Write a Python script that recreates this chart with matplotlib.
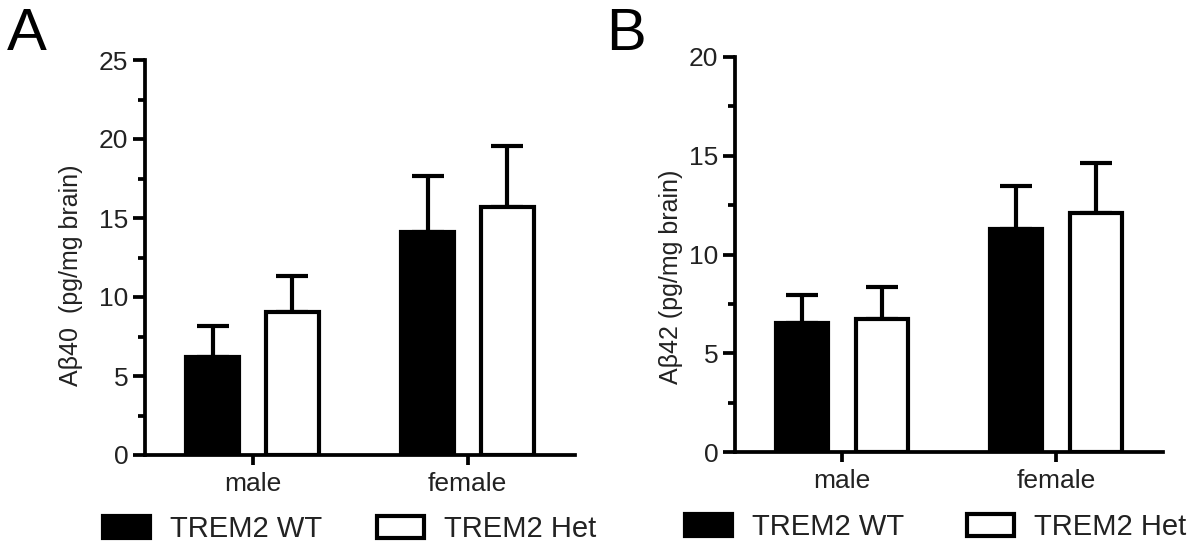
import matplotlib.pyplot as plt
import matplotlib.patches as mpatches
import numpy as np

plt.rcParams['font.family'] = ['Liberation Sans', 'DejaVu Sans']

groups = ["male", "female"]
series = ["TREM2 WT", "TREM2 Het"]

# panel A: Abeta40 (mean, upper SEM)
a40_wt = [6.2, 14.1]
a40_wt_err = [1.95, 3.55]
a40_het = [9.05, 15.7]
a40_het_err = [2.3, 3.85]

# panel B: Abeta42
a42_wt = [6.55, 11.3]
a42_wt_err = [1.4, 2.15]
a42_het = [6.75, 12.1]
a42_het_err = [1.6, 2.55]

LW = 3.0
TXT = "#222222"


def draw_panel(ax, wt, wt_err, het, het_err, ymax, ylabel, label_xy):
    x = np.arange(len(groups))
    w = 0.245
    off = 0.186
    ax.bar(x - off, wt, w, color="black", edgecolor="black", linewidth=LW, zorder=2)
    ax.bar(x + off, het, w, color="white", edgecolor="black", linewidth=LW, zorder=2)
    ax.errorbar(x - off, wt, yerr=[np.zeros(len(wt)), wt_err], fmt="none",
                ecolor="black", elinewidth=LW, capsize=11.5, capthick=LW, zorder=1)
    ax.errorbar(x + off, het, yerr=[np.zeros(len(het)), het_err], fmt="none",
                ecolor="black", elinewidth=LW, capsize=11.5, capthick=LW, zorder=1)
    ax.set_xlim(-0.5, 1.5)
    ax.set_ylim(0, ymax)
    ax.set_yticks(np.arange(0, ymax + 1, 5))
    ax.set_yticks(np.arange(0, ymax + 0.1, 2.5), minor=True)
    ax.set_xticks(x)
    ax.set_xticklabels(groups)
    for s in ["top", "right"]:
        ax.spines[s].set_visible(False)
    for s in ["left", "bottom"]:
        ax.spines[s].set_linewidth(2.7)
    ax.tick_params(axis="both", which="major", width=2.7, labelsize=19, color="black",
                   labelcolor=TXT)
    ax.tick_params(axis="y", which="major", length=9, pad=3)
    ax.tick_params(axis="y", which="minor", width=2.7, length=5)
    ax.tick_params(axis="x", length=7, pad=5)
    ax.set_ylabel(ylabel, fontsize=18, color=TXT)
    ax.yaxis.set_label_coords(*label_xy)


fig = plt.figure(figsize=(12, 5.51), dpi=100)
axA = fig.add_axes([145 / 1200, 1 - 455 / 551, 430 / 1200, 395 / 551])
axB = fig.add_axes([735 / 1200, 1 - 452 / 551, 428 / 1200, 395 / 551])

draw_panel(axA, a40_wt, a40_wt_err, a40_het, a40_het_err, 25,
           "A\u03b240  (pg/mg brain)", (-0.144, 0.456))
draw_panel(axB, a42_wt, a42_wt_err, a42_het, a42_het_err, 20,
           "A\u03b242 (pg/mg brain)", (-0.121, 0.443))

fig.text(0.006, 1 - 50 / 551, "A", fontsize=43, va="baseline")
fig.text(0.505, 1 - 50 / 551, "B", fontsize=43, va="baseline")

handles = [mpatches.Patch(facecolor="black", edgecolor="black", linewidth=LW),
           mpatches.Patch(facecolor="white", edgecolor="black", linewidth=LW)]
# one legend per entry so each sits where it does in the figure
entries = [(0, 103, 529), (1, 377, 529), (0, 685, 527), (1, 967, 527)]
for i, px, py in entries:
    leg = fig.legend([handles[i]], [series[i]], loc="center left",
                     bbox_to_anchor=(px / 1200, 1 - py / 551), frameon=False,
                     fontsize=21, handlelength=1.6, handleheight=0.8,
                     handletextpad=0.7, borderpad=0, borderaxespad=0)
    for t in leg.get_texts():
        t.set_color(TXT)

fig.savefig("out.png", dpi=100)
